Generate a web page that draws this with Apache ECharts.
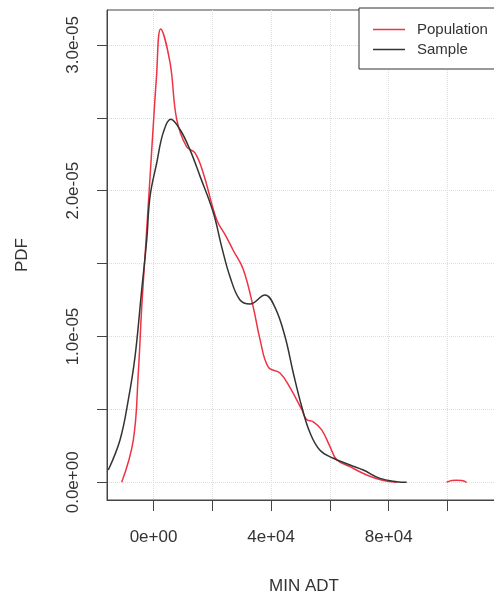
<!DOCTYPE html>
<html>
<head>
<meta charset="utf-8">
<script src="https://cdn.jsdelivr.net/npm/echarts@6/dist/echarts.min.js"></script>
<style>
  html, body { margin: 0; padding: 0; background: #fff; }
  #chart { width: 494px; height: 600px; }
</style>
</head>
<body>
<div id="chart"></div>
<script>
// density curves (x = MIN ADT, y = PDF)
const popX = [-10815, -6870, -5170, -4013, -2891, -1190, -68, 952, 2449, 5612, 7890, 11291, 14114, 16937,
  21494, 24300, 27140, 30541, 33942, 36221, 39043, 43025, 46424, 50403, 52104, 54348, 57205, 60028,
  62307, 66830, 72510, 78155, 82713, null, 99700, 101500, 103000, 104800, 106500]
const popY = [0.0, 0.29e-5, 0.75e-5, 1.2e-5, 1.55e-5, 2.09e-5, 2.45e-5, 2.76e-5, 3.11e-5, 2.88e-5, 2.49e-5,
  2.3e-5, 2.26e-5, 2.12e-5, 1.8e-5, 1.7e-5, 1.59e-5, 1.46e-5, 1.2e-5, 0.98e-5, 0.79e-5, 0.75e-5, 0.65e-5,
  0.5e-5, 0.43e-5, 0.415e-5, 0.36e-5, 0.245e-5, 0.155e-5, 0.107e-5, 0.05e-5, 0.012e-5, 0.0, null,
  0.0, 0.012e-5, 0.014e-5, 0.012e-5, 0.0]

const sampleX = [-15373, -11393, -8571, -6292, -4013, -2313, -1190, 1088, 3333, 5850, 9013, 12414,
  15815, 20338, 23127, 26018, 29418, 32819, 37921, 41322, 44723, 47546, 50403, 53225, 56626, 61149,
  66830, 71353, 77015, 82713, 86114]
const sampleY = [0.084e-5, 0.29e-5, 0.565e-5, 0.86e-5, 1.32e-5, 1.66e-5, 1.96e-5, 2.19e-5, 2.4e-5,
  2.49e-5, 2.42e-5, 2.28e-5, 2.1e-5, 1.85e-5, 1.62e-5, 1.41e-5, 1.25e-5, 1.223e-5, 1.285e-5, 1.2e-5,
  1.0e-5, 0.75e-5, 0.52e-5, 0.34e-5, 0.22e-5, 0.165e-5, 0.119e-5, 0.084e-5, 0.027e-5, 0.004e-5, 0.0]

const xTicks = [0, 20000, 40000, 60000, 80000, 100000]
const xLabels = [0, 40000, 80000]
const yTicks = [0, 0.5e-5, 1.0e-5, 1.5e-5, 2.0e-5, 2.5e-5, 3.0e-5]
const yLabels = [0, 1.0e-5, 2.0e-5, 3.0e-5]

// R style scientific labels, e.g. 4e+04, 2.0e-05
function sci(v, digits) {
  const s = Number(v).toExponential(digits)
  const [m, e] = s.split('e')
  const sign = e[0] === '-' ? '-' : '+'
  const n = Math.abs(parseInt(e, 10))
  return m + 'e' + sign + (n < 10 ? '0' + n : n)
}

const pairs = (xs, ys) => xs.map((x, i) => (x === null ? [null, null] : [x, ys[i]]))

const font = 'Liberation Sans, Arial, sans-serif'
const red = '#ee3344'
const dark = '#333'
const lineIcon = 'path://M0,0H32V1.5H0Z'

const chart = echarts.init(document.getElementById('chart'))

chart.setOption({
  animation: false,
  backgroundColor: '#fff',
  textStyle: { fontFamily: font },
  grid: {
    left: 107, top: 10, bottom: 100, width: 394,
    outerBoundsMode: 'none',
    show: true, borderColor: '#444', borderWidth: 1, containLabel: false
  },
  legend: {
    data: [
      { name: 'Population', icon: lineIcon },
      { name: 'Sample', icon: lineIcon }
    ],
    orient: 'vertical',
    left: 359, top: 8,
    padding: [14, 30, 12, 14],
    itemWidth: 32, itemHeight: 14, itemGap: 5,
    symbolKeepAspect: true,
    backgroundColor: '#fff',
    borderColor: '#333', borderWidth: 1,
    textStyle: { fontFamily: font, fontSize: 15, color: '#333', padding: [0, 0, 0, 7] }
  },
  xAxis: {
    type: 'value',
    min: -15815, max: 118185,
    name: 'MIN ADT',
    nameLocation: 'middle',
    nameGap: 78,
    nameTextStyle: { fontSize: 17, color: '#333', fontFamily: font },
    axisLine: { show: true, onZero: false, lineStyle: { color: '#444', width: 1 } },
    axisTick: { show: true, length: 11, customValues: xTicks, lineStyle: { color: '#444' } },
    axisLabel: {
      customValues: xLabels, margin: 29, fontSize: 17, color: '#333', fontFamily: font,
      formatter: v => sci(v, 0)
    },
    splitLine: { show: true, lineStyle: { color: '#ddd', type: 'dotted', width: 1 } }
  },
  yAxis: {
    type: 'value',
    min: -1.214e-6, max: 3.2395e-5,
    name: 'PDF',
    nameLocation: 'middle',
    nameRotate: 90,
    nameGap: 76,
    nameTextStyle: { fontSize: 17, color: '#333', fontFamily: font },
    axisLine: { show: true, onZero: false, lineStyle: { color: '#444', width: 1 } },
    axisTick: { show: true, length: 10, customValues: yTicks, lineStyle: { color: '#444' } },
    axisLabel: {
      customValues: yLabels, rotate: 90, margin: 25, fontSize: 17, color: '#333', fontFamily: font,
      formatter: v => sci(v, 1)
    },
    splitLine: { show: true, lineStyle: { color: '#ddd', type: 'dotted', width: 1 } }
  },
  series: [
    {
      name: 'Population',
      type: 'line',
      data: pairs(popX, popY),
      smooth: 0.4,
      symbol: 'none',
      connectNulls: false,
      lineStyle: { color: red, width: 1.5 },
      itemStyle: { color: red },
      z: 3
    },
    {
      name: 'Sample',
      type: 'line',
      data: pairs(sampleX, sampleY),
      smooth: 0.4,
      symbol: 'none',
      lineStyle: { color: dark, width: 1.5 },
      itemStyle: { color: dark },
      z: 4
    }
  ]
})
</script>
</body>
</html>
